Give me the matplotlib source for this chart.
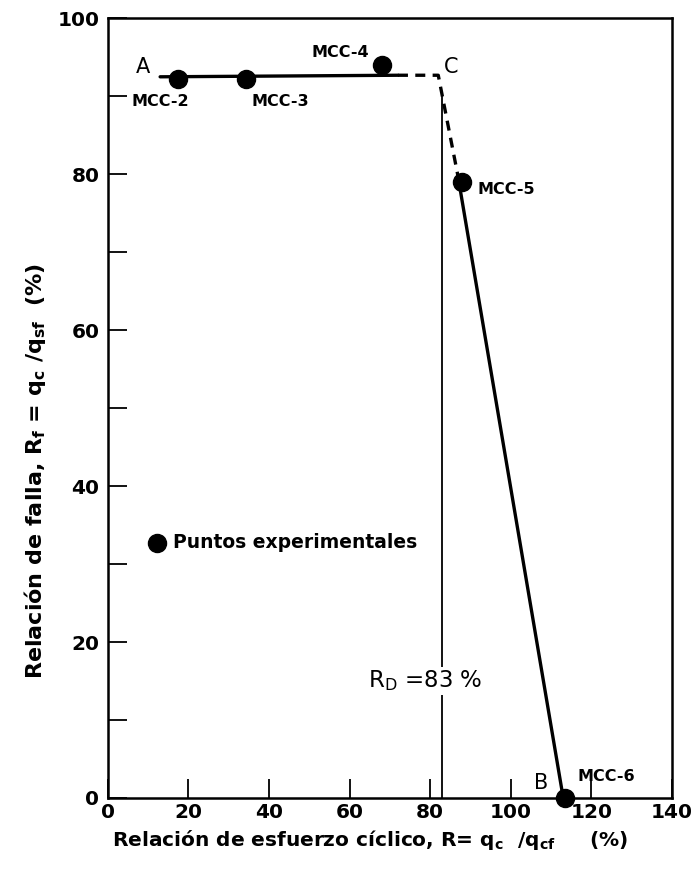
import matplotlib
matplotlib.use("Agg")
import matplotlib.pyplot as plt

# Data
pt_x = [17.4, 34.2, 68.0, 88.0, 113.5]
pt_y = [92.2, 92.2, 94.0, 79.0, 0.0]
pt_labels = ["MCC-2", "MCC-3", "MCC-4", "MCC-5", "MCC-6"]

solid1_x = [13.0, 72.0]
solid1_y = [92.5, 92.7]
dash_x = [72.0, 82.0, 86.8]
dash_y = [92.7, 92.7, 80.0]
solid2_x = [86.8, 113.0]
solid2_y = [80.0, 0.0]

rd_value = 83
xticks = [0, 20, 40, 60, 80, 100, 120, 140]
yticks = [0, 20, 40, 60, 80, 100]
yminor = [10, 30, 50, 70, 90]

plt.rcParams['font.family'] = ['DejaVu Sans']

fig = plt.figure(figsize=(6.95, 8.73), dpi=100)
ax = fig.add_axes([0.155, 0.086, 0.812, 0.893])
ax.set_xlim(0, 140)
ax.set_ylim(0, 100)

# vertical R_D line
ax.plot([rd_value, rd_value], [0, 90], color='black', lw=1.3, zorder=1)

ax.plot(solid1_x, solid1_y, color='black', lw=2.4, solid_capstyle='round', zorder=2)
ax.plot(dash_x, dash_y, color='black', lw=2.4, ls=(0, (3, 2.2)), zorder=2)
ax.plot(solid2_x, solid2_y, color='black', lw=2.4, solid_capstyle='round', zorder=2)

ax.plot(pt_x, pt_y, 'o', color='black', ms=13, zorder=3, clip_on=False)

lab_pos = [(13.0, 89.3), (42.7, 89.3), (57.6, 95.6), (99.0, 78.0), (123.8, 2.8)]
for (lx, ly), t in zip(lab_pos, pt_labels):
    ax.text(lx, ly, t, ha='center', va='center', fontsize=11.5, fontweight='bold')

ax.text(8.7, 93.8, "A", ha='center', va='center', fontsize=15)
ax.text(85.2, 93.8, "C", ha='center', va='center', fontsize=15)
ax.text(107.4, 1.9, "B", ha='center', va='center', fontsize=15)

ax.text(78.8, 15.0, r"R$_\mathregular{D}$ =83 %", ha='center', va='center', fontsize=16.5,
        bbox=dict(facecolor='white', edgecolor='none', pad=1), zorder=2)

ax.plot([12.2], [32.7], 'o', color='black', ms=13)
ax.text(16.3, 32.7, "Puntos experimentales", ha='left', va='center', fontsize=13.5,
        fontweight='bold')

ax.set_xticks(xticks)
ax.set_yticks(yticks)
ax.set_yticks(yminor, minor=True)
ax.tick_params(axis='both', which='both', direction='in', length=14, width=1.3,
               labelsize=14.5, top=False, right=False)
ax.tick_params(axis='x', pad=4)
ax.tick_params(axis='y', pad=6)
for lab in ax.get_xticklabels() + ax.get_yticklabels():
    lab.set_fontweight('bold')
for s in ax.spines.values():
    s.set_linewidth(1.8)

ax.set_xlabel(r"Relación de esfuerzo cíclico, R= q$_\mathregular{c}$  /q$_\mathregular{cf}$     (%)",
              fontsize=14.5, fontweight='bold')
ax.xaxis.set_label_coords(0.465, -0.038)
ax.set_ylabel(r"Relación de falla, R$_\mathregular{f}$ = q$_\mathregular{c}$ /q$_\mathregular{sf}$  (%)",
              fontsize=16, fontweight='bold')
ax.yaxis.set_label_coords(-0.105, 0.42)

fig.savefig("out.png", dpi=100)
